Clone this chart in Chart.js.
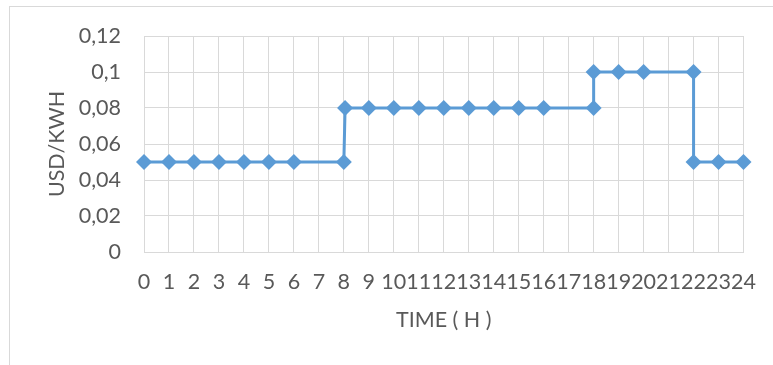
<!DOCTYPE html>
<html>
<head>
<meta charset="utf-8">
<script src="https://cdn.jsdelivr.net/npm/chart.js@4/dist/chart.umd.min.js"></script>
<style>
  html, body { margin: 0; padding: 0; background: #fff; overflow: hidden; }
  #wrap { position: relative; width: 773px; height: 365px; }
  #frame { position: absolute; left: 9px; top: 6px; width: 900px; height: 500px; border: 1px solid #d9d9d9; box-sizing: border-box; }
  canvas { position: absolute; left: 0; top: 0; }
</style>
</head>
<body>
<div id="wrap">
  <div id="frame"></div>
  <canvas id="chart" width="773" height="365"></canvas>
</div>
<script>
// heures (axe X) et tarif en USD/kWh
const hours = [0, 1, 2, 3, 4, 5, 6, 8, 8.05, 9, 10, 11, 12, 13, 14, 15, 16, 18, 18, 19, 20, 22, 22, 23, 24];
const price = [0.05, 0.05, 0.05, 0.05, 0.05, 0.05, 0.05, 0.05, 0.08, 0.08, 0.08, 0.08, 0.08, 0.08, 0.08, 0.08, 0.08, 0.08, 0.1, 0.1, 0.1, 0.1, 0.05, 0.05, 0.05];

const xTitle = 'TIME ( H )';
const yTitle = 'USD/KWH';

const textColor = '#595959';
const gridColor = '#d9d9d9';
const font = { family: 'Lato', size: 21.5 };

const points = hours.map((h, i) => ({ x: h, y: price[i] }));

new Chart(document.getElementById('chart').getContext('2d'), {
  type: 'scatter',
  data: {
    datasets: [{
      data: points,
      showLine: true,
      clip: false,
      borderColor: '#5b9bd5',
      backgroundColor: '#5b9bd5',
      borderWidth: 3,
      tension: 0,
      pointStyle: 'rectRot',
      pointRadius: 8,
      pointBorderWidth: 0
    }]
  },
  options: {
    responsive: false,
    animation: false,
    layout: { padding: { left: 44, top: 36, right: 29, bottom: 32 } },
    plugins: { legend: { display: false }, tooltip: { enabled: false } },
    scales: {
      x: {
        type: 'linear',
        min: 0,
        max: 24,
        afterFit: s => { s.height = 81; },
        ticks: { stepSize: 1, autoSkip: false, maxRotation: 0, color: textColor, font: font, padding: 17 },
        grid: { color: gridColor, lineWidth: 1, drawTicks: false },
        border: { color: gridColor },
        title: { display: true, text: xTitle, color: textColor, font: font, padding: 0 }
      },
      y: {
        min: 0,
        max: 0.12,
        afterFit: s => { s.width = 100; },
        ticks: {
          stepSize: 0.02,
          color: textColor,
          font: font,
          padding: 23,
          callback: v => String(Math.round(v * 100) / 100).replace('.', ',')
        },
        grid: { color: gridColor, lineWidth: 1, drawTicks: false },
        border: { color: gridColor },
        title: { display: true, text: yTitle, color: textColor, font: font, padding: 0 }
      }
    }
  }
});
</script>
</body>
</html>
